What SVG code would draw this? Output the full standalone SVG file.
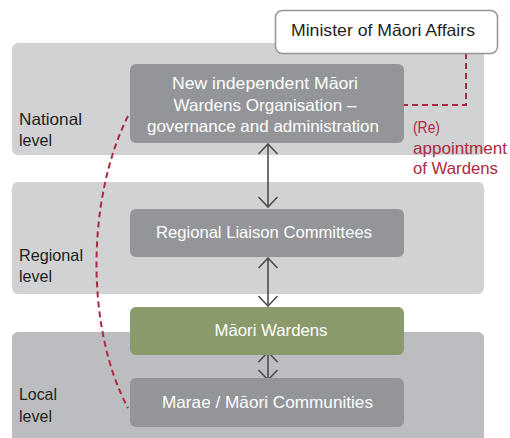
<svg xmlns="http://www.w3.org/2000/svg" width="510" height="438" viewBox="0 0 510 438">
<style>
.band{fill:#d1d2d4}
.band2{fill:#bcbdc0}
.box{fill:#939598}
.green{fill:#8a9a6b}
.t{font-family:"Liberation Sans",Arial,sans-serif;font-size:16.5px}
.w{fill:#ffffff}
.k{fill:#231f20}
.r{fill:#b0283f}
.arr{stroke:#4d4d4f;stroke-width:1.6;fill:none}
.dash{stroke:#b0283f;stroke-width:2;fill:none;stroke-dasharray:6 4}
</style>
<defs>
<marker id="ah" viewBox="-1 -11 12 22" refX="10" refY="0" markerWidth="12" markerHeight="22" markerUnits="userSpaceOnUse" orient="auto-start-reverse">
<path d="M0,-9.5 L10,0 L0,9.5" fill="none" stroke="#4d4d4f" stroke-width="1.6"/>
</marker>
</defs>
<g id="bands">
<rect class="band" x="12" y="43" width="472" height="112" rx="6"/>
<rect class="band" x="12" y="182" width="472" height="112" rx="6"/>
<rect class="band2" x="12" y="332" width="472" height="120" rx="6"/>
</g>
<g id="level-labels" class="t k" lengthAdjust="spacingAndGlyphs">
<text x="19" y="125" textLength="63" lengthAdjust="spacingAndGlyphs">National</text>
<text x="19" y="146" textLength="33" lengthAdjust="spacingAndGlyphs">level</text>
<text x="19" y="261" textLength="64" lengthAdjust="spacingAndGlyphs">Regional</text>
<text x="19" y="282" textLength="33" lengthAdjust="spacingAndGlyphs">level</text>
<text x="19" y="400" textLength="38" lengthAdjust="spacingAndGlyphs">Local</text>
<text x="19" y="422" textLength="33" lengthAdjust="spacingAndGlyphs">level</text>
</g>
<g id="connectors">
<path class="dash" d="M466,53 V105 H404"/>
<path class="dash" d="M128,116 C86,200 86,330 128,408"/>
<line class="arr" x1="268" y1="144" x2="268" y2="207" marker-start="url(#ah)" marker-end="url(#ah)"/>
<line class="arr" x1="268" y1="258" x2="268" y2="306" marker-start="url(#ah)" marker-end="url(#ah)"/>
<line class="arr" x1="268" y1="352" x2="268" y2="380" marker-start="url(#ah)" marker-end="url(#ah)"/>
</g>
<g id="minister">
<rect x="275.5" y="10.5" width="222" height="43" rx="7" fill="#ffffff" stroke="#939598" stroke-width="1.5"/>
<text class="t k" x="291" y="36" textLength="184" lengthAdjust="spacingAndGlyphs">Minister of Māori Affairs</text>
</g>
<g id="org">
<rect class="box" x="130" y="64" width="274" height="79" rx="6"/>
<text class="t w" x="172" y="89" textLength="186" lengthAdjust="spacingAndGlyphs">New independent Māori</text>
<text class="t w" x="173.5" y="111" textLength="183" lengthAdjust="spacingAndGlyphs">Wardens Organisation –</text>
<text class="t w" x="147" y="132" textLength="232" lengthAdjust="spacingAndGlyphs">governance and administration</text>
</g>
<g id="appointment-label" class="t r">
<text x="413" y="133" textLength="27" lengthAdjust="spacingAndGlyphs">(Re)</text>
<text x="413" y="154" textLength="94" lengthAdjust="spacingAndGlyphs">appointment</text>
<text x="413" y="174" textLength="85" lengthAdjust="spacingAndGlyphs">of Wardens</text>
</g>
<g id="regional">
<rect class="box" x="130" y="209" width="274" height="48" rx="6"/>
<text class="t w" x="156" y="238" textLength="216" lengthAdjust="spacingAndGlyphs">Regional Liaison Committees</text>
</g>
<g id="wardens">
<rect class="green" x="130" y="307" width="274" height="48" rx="6"/>
<text class="t w" x="214.5" y="336" textLength="113" lengthAdjust="spacingAndGlyphs">Māori Wardens</text>
</g>
<g id="marae">
<rect class="box" x="130" y="378" width="274" height="49" rx="6"/>
<text class="t w" x="162" y="408" textLength="211" lengthAdjust="spacingAndGlyphs">Marae / Māori Communities</text>
</g>
</svg>
